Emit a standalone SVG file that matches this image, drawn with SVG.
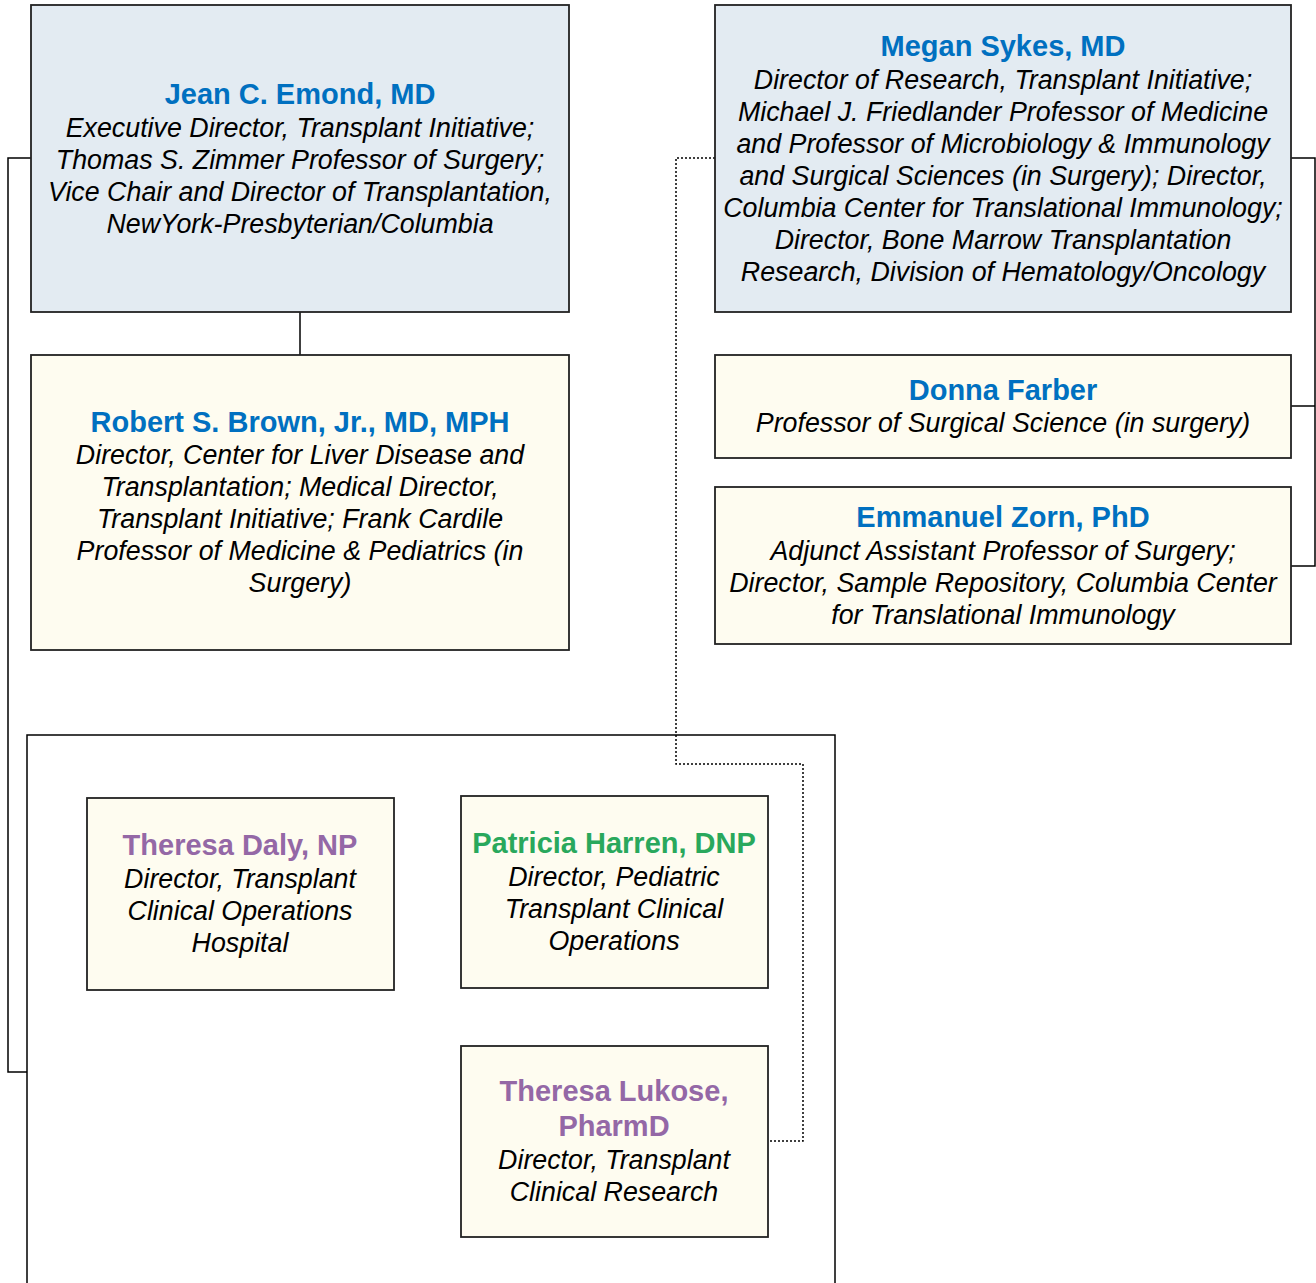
<svg xmlns="http://www.w3.org/2000/svg" width="1316" height="1283" viewBox="0 0 1316 1283">
<style>
.box{stroke:#222;stroke-width:1.8}
.blue{fill:#E3EBF2}
.cream{fill:#FEFCF0}
.nm{font-family:"Liberation Sans",Arial,sans-serif;font-weight:bold;font-size:29px;text-anchor:middle}
.ds{font-family:"Liberation Sans",Arial,sans-serif;font-style:italic;font-size:26.8px;text-anchor:middle;fill:#000}
.b{fill:#0070C0}
.p{fill:#9468A6}
.g{fill:#29A85C}
.ln{fill:none;stroke:#000;stroke-width:1.5}
.dt{fill:none;stroke:#000;stroke-width:1.5;stroke-dasharray:2 2}
</style>
<rect x="0" y="0" width="1316" height="1283" fill="#fff"/>
<g id="container">
<rect x="27" y="735" width="808" height="560" fill="#fff" stroke="#000" stroke-width="1.5"/>
</g>
<g id="connectors">
<line class="ln" x1="300" y1="312" x2="300" y2="355"/>
<polyline class="ln" points="31,158 8,158 8,1072 27,1072"/>
<polyline class="ln" points="1291,158 1315,158 1315,566 1291,566"/>
<line class="ln" x1="1291" y1="406" x2="1315" y2="406"/>
<polyline class="dt" points="715,158 676,158 676,764 803,764 803,1141 770,1141"/>
</g>
<g id="emond">
<rect class="box blue" x="31" y="5" width="538" height="307"/>
<text class="nm b" x="300" y="104">Jean C. Emond, MD</text>
<text class="ds" x="300" y="137">Executive Director, Transplant Initiative;</text>
<text class="ds" x="300" y="169">Thomas S. Zimmer Professor of Surgery;</text>
<text class="ds" x="300" y="201">Vice Chair and Director of Transplantation,</text>
<text class="ds" x="300" y="233">NewYork-Presbyterian/Columbia</text>
</g>
<g id="brown">
<rect class="box cream" x="31" y="355" width="538" height="295"/>
<text class="nm b" x="300" y="432">Robert S. Brown, Jr., MD, MPH</text>
<text class="ds" x="300" y="464">Director, Center for Liver Disease and</text>
<text class="ds" x="300" y="496">Transplantation; Medical Director,</text>
<text class="ds" x="300" y="528">Transplant Initiative; Frank Cardile</text>
<text class="ds" x="300" y="560">Professor of Medicine &amp; Pediatrics (in</text>
<text class="ds" x="300" y="592">Surgery)</text>
</g>
<g id="sykes">
<rect class="box blue" x="715" y="5" width="576" height="307"/>
<text class="nm b" x="1003" y="56">Megan Sykes, MD</text>
<text class="ds" x="1003" y="89">Director of Research, Transplant Initiative;</text>
<text class="ds" x="1003" y="121">Michael J. Friedlander Professor of Medicine</text>
<text class="ds" x="1003" y="153">and Professor of Microbiology &amp; Immunology</text>
<text class="ds" x="1003" y="185">and Surgical Sciences (in Surgery); Director,</text>
<text class="ds" x="1003" y="217">Columbia Center for Translational Immunology;</text>
<text class="ds" x="1003" y="249">Director, Bone Marrow Transplantation</text>
<text class="ds" x="1003" y="281">Research, Division of Hematology/Oncology</text>
</g>
<g id="farber">
<rect class="box cream" x="715" y="355" width="576" height="103"/>
<text class="nm b" x="1003" y="400">Donna Farber</text>
<text class="ds" x="1003" y="432">Professor of Surgical Science (in surgery)</text>
</g>
<g id="zorn">
<rect class="box cream" x="715" y="487" width="576" height="157"/>
<text class="nm b" x="1003" y="527">Emmanuel Zorn, PhD</text>
<text class="ds" x="1003" y="560">Adjunct Assistant Professor of Surgery;</text>
<text class="ds" x="1003" y="592">Director, Sample Repository, Columbia Center</text>
<text class="ds" x="1003" y="624">for Translational Immunology</text>
</g>
<g id="daly">
<rect class="box cream" x="87" y="798" width="307" height="192"/>
<text class="nm p" x="240" y="855">Theresa Daly, NP</text>
<text class="ds" x="240" y="888">Director, Transplant</text>
<text class="ds" x="240" y="920">Clinical Operations</text>
<text class="ds" x="240" y="952">Hospital</text>
</g>
<g id="harren">
<rect class="box cream" x="461" y="796" width="307" height="192"/>
<text class="nm g" x="614" y="853">Patricia Harren, DNP</text>
<text class="ds" x="614" y="886">Director, Pediatric</text>
<text class="ds" x="614" y="918">Transplant Clinical</text>
<text class="ds" x="614" y="950">Operations</text>
</g>
<g id="lukose">
<rect class="box cream" x="461" y="1046" width="307" height="191"/>
<text class="nm p" x="614" y="1101">Theresa Lukose,</text>
<text class="nm p" x="614" y="1136">PharmD</text>
<text class="ds" x="614" y="1169">Director, Transplant</text>
<text class="ds" x="614" y="1201">Clinical Research</text>
</g>
</svg>
